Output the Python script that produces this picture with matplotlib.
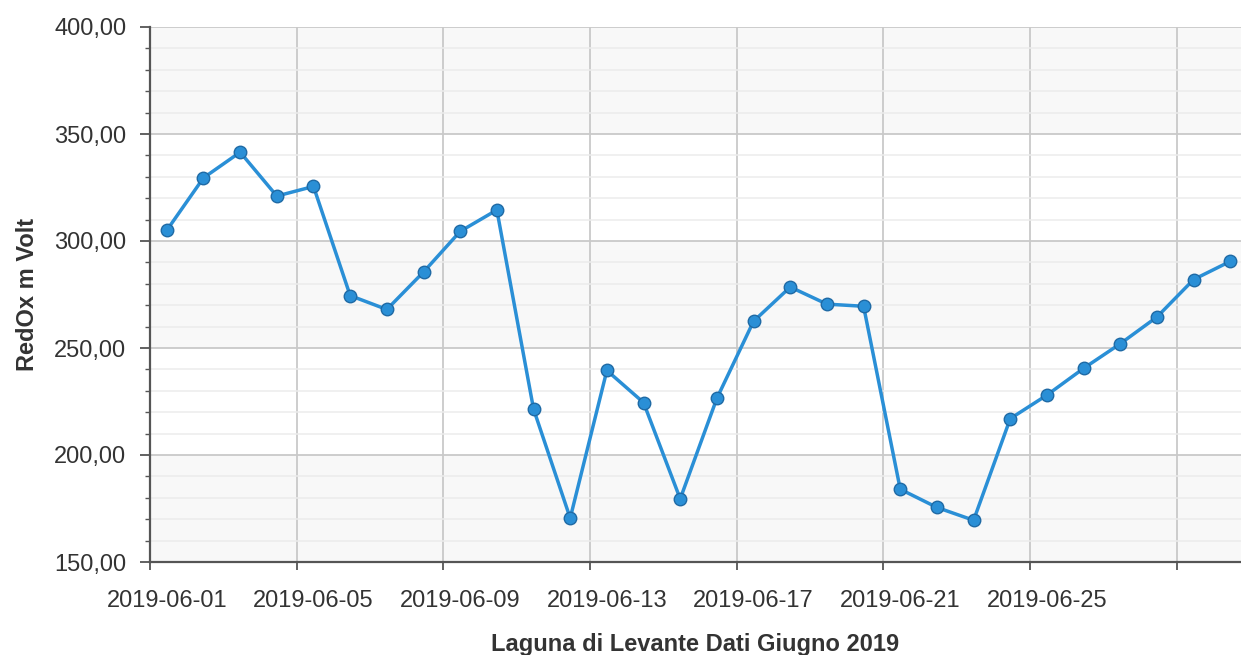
import matplotlib
matplotlib.use("Agg")
import matplotlib.pyplot as plt
import matplotlib.dates as mdates
from matplotlib.ticker import MultipleLocator, FuncFormatter, FixedLocator, NullFormatter
from datetime import datetime, timedelta

# ---- data ----
dates = [f"2019-06-{d:02d}" for d in range(1, 31)]
redox = [305.0, 329.5, 341.5, 321.0, 325.5, 274.5, 268.0, 285.5, 304.5, 314.5,
         221.5, 170.5, 239.5, 224.5, 179.5, 226.5, 262.5, 278.5, 270.5, 269.5,
         184.0, 175.5, 169.5, 217.0, 228.0, 240.5, 252.0, 264.5, 282.0, 290.5]
label_dates = ["2019-06-01", "2019-06-05", "2019-06-09", "2019-06-13",
               "2019-06-17", "2019-06-21", "2019-06-25"]
grid_dates = label_dates + ["2019-06-29"]
x_title = "Laguna di Levante Dati Giugno 2019"
y_title = "RedOx m Volt"

plt.rcParams['font.family'] = ['Liberation Sans', 'DejaVu Sans']

line_color = "#2a8fd6"
edge_color = "#1f6aa5"
text_color = "#333333"

offset = timedelta(hours=11)
x = [datetime.strptime(d, "%Y-%m-%d") + offset for d in dates]

fig = plt.figure(figsize=(12.41, 6.55), dpi=100)
ax = fig.add_axes([150/1241, (655-562)/655, 1 - 150/1241, (562-27)/655])

# alternating bands
for lo in (150, 250, 350):
    ax.axhspan(lo, lo + 50, color="#f8f8f8", zorder=0, lw=0)

ax.plot(x, redox, color=line_color, lw=2.5, marker="o", markersize=9,
        markerfacecolor=line_color, markeredgecolor=edge_color,
        markeredgewidth=1.0, zorder=5, clip_on=False)

ax.set_ylim(150, 400)
ax.set_xlim(datetime(2019, 6, 1), datetime(2019, 6, 30, 18))

ax.yaxis.set_major_locator(MultipleLocator(50))
ax.yaxis.set_minor_locator(MultipleLocator(10))
ax.yaxis.set_major_formatter(FuncFormatter(lambda v, p: f"{v:.2f}".replace(".", ",")))

gpos = [mdates.date2num(datetime.strptime(d, "%Y-%m-%d")) for d in grid_dates]
lpos = [mdates.date2num(datetime.strptime(d, "%Y-%m-%d") + offset) for d in label_dates]
ax.xaxis.set_major_locator(FixedLocator(gpos))
ax.xaxis.set_major_formatter(NullFormatter())
ax.set_xticks(lpos, minor=True)
ax.set_xticklabels(label_dates, minor=True)

ax.grid(True, which="major", axis="both", color="#c9c9c9", lw=1.3, zorder=1)
ax.grid(True, which="minor", axis="y", color="#ececec", lw=1.1, zorder=1)
ax.set_axisbelow(True)

for s in ("top", "right"):
    ax.spines[s].set_visible(False)
for s in ("left", "bottom"):
    ax.spines[s].set_color("#555555")
    ax.spines[s].set_linewidth(1.6)

ax.tick_params(axis="y", which="major", length=7, width=1.3, color="#555555",
               labelsize=17, labelcolor=text_color, pad=10)
ax.tick_params(axis="y", which="minor", length=3.5, width=1.0, color="#555555")
ax.tick_params(axis="x", which="major", length=6, width=1.3, color="#555555")
ax.tick_params(axis="x", which="minor", length=0, labelsize=17,
               labelcolor=text_color, pad=20)

ax.set_xlabel(x_title, fontsize=17, fontweight="bold", color=text_color, labelpad=15)
ax.set_ylabel(y_title, fontsize=17, fontweight="bold", color=text_color, labelpad=11)

fig.savefig("out.png", dpi=100, facecolor="white")
